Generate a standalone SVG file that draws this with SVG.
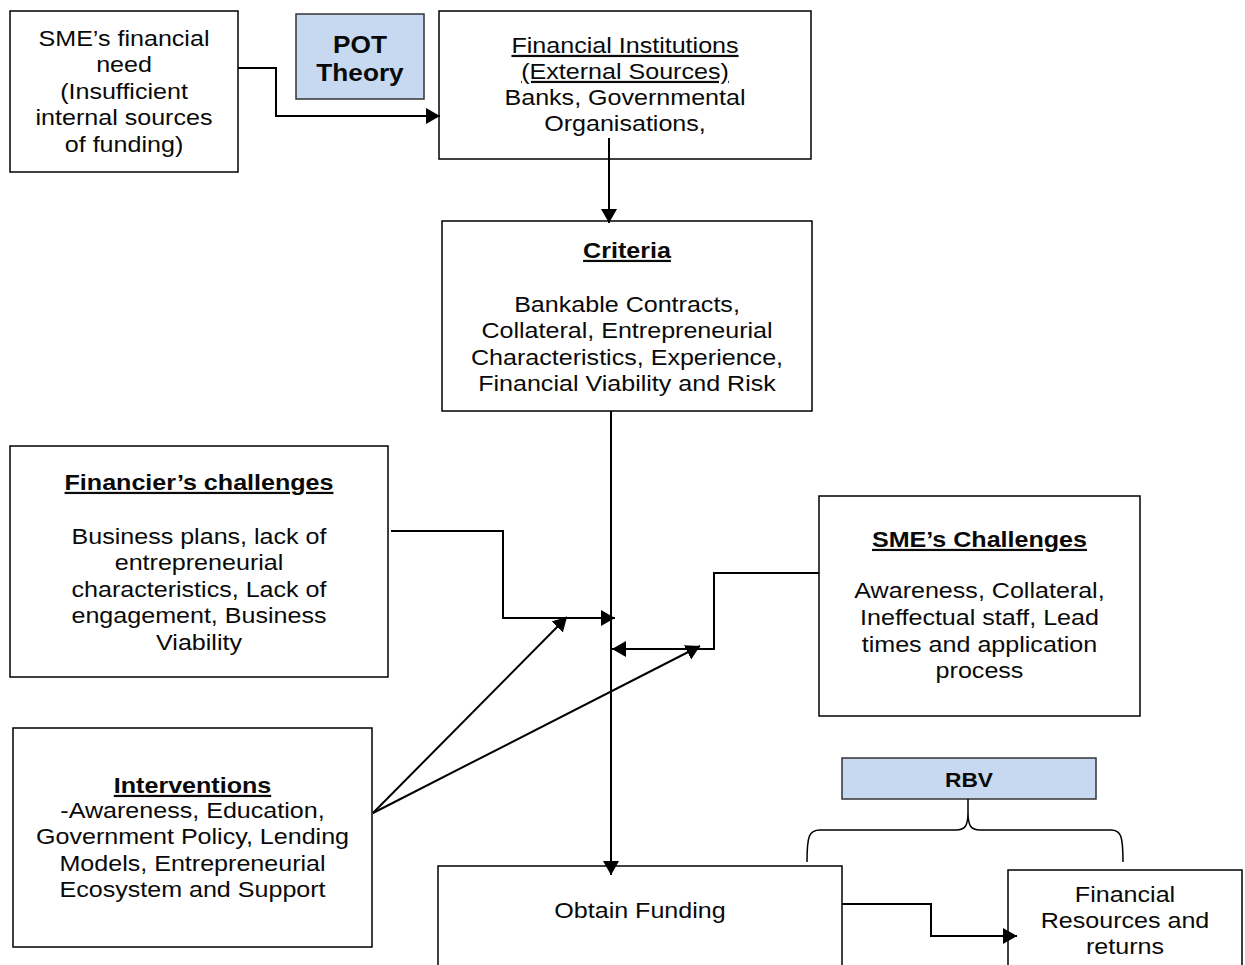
<svg xmlns="http://www.w3.org/2000/svg" width="1245" height="965" viewBox="0 0 1245 965">
  <style>
    .box { fill: #ffffff; stroke: #000000; stroke-width: 1.5; }
    .theory { fill: #c6d9f1; stroke: #333333; stroke-width: 1.5; }
    .t { font-family: "Liberation Sans", Arial, sans-serif; font-size: 22px; fill: #0a0a0a; text-anchor: middle; }
    .b { font-weight: bold; }
    .u { text-decoration: underline; }
    .link { fill: none; stroke: #000000; stroke-width: 2; }
    .brace { fill: none; stroke: #000000; stroke-width: 1.5; }
  </style>
  <defs>
    <marker id="arrow" markerUnits="userSpaceOnUse" markerWidth="15" markerHeight="17" refX="14" refY="8" orient="auto">
      <path d="M0,0 L14,8 L0,16 z" fill="#000000"/>
    </marker>
  </defs>

  <rect width="1245" height="965" fill="#ffffff"/>

  <g id="sme-need">
    <rect class="box" x="10" y="11" width="228" height="161"/>
    <g transform="translate(124,0) scale(1.14,1)">
      <text class="t" x="0" y="46">SME’s financial</text>
      <text class="t" x="0" y="72.5">need</text>
      <text class="t" x="0" y="99">(Insufficient</text>
      <text class="t" x="0" y="125.5">internal sources</text>
      <text class="t" x="0" y="152">of funding)</text>
    </g>
  </g>

  <g id="pot-theory">
    <rect class="theory" x="296" y="14" width="128" height="85"/>
    <g transform="translate(360,0) scale(1.14,1)">
      <text class="t b" x="0" y="53" style="font-size:23px">POT</text>
      <text class="t b" x="0" y="81" style="font-size:23px">Theory</text>
    </g>
  </g>

  <g id="financial-institutions">
    <rect class="box" x="439" y="11" width="372" height="148"/>
    <g transform="translate(625,0) scale(1.14,1)">
      <text class="t u" x="0" y="53">Financial Institutions</text>
      <text class="t u" x="0" y="79">(External Sources)</text>
      <text class="t" x="0" y="105">Banks, Governmental</text>
      <text class="t" x="0" y="131">Organisations,</text>
    </g>
  </g>

  <g id="criteria">
    <rect class="box" x="442" y="221" width="370" height="190"/>
    <g transform="translate(627,0) scale(1.14,1)">
      <text class="t b u" x="0" y="258">Criteria</text>
      <text class="t" x="0" y="312">Bankable Contracts,</text>
      <text class="t" x="0" y="338.5">Collateral, Entrepreneurial</text>
      <text class="t" x="0" y="365">Characteristics, Experience,</text>
      <text class="t" x="0" y="391">Financial Viability and Risk</text>
    </g>
  </g>

  <g id="financiers-challenges">
    <rect class="box" x="10" y="446" width="378" height="231"/>
    <g transform="translate(199,0) scale(1.14,1)">
      <text class="t b u" x="0" y="490">Financier’s challenges</text>
      <text class="t" x="0" y="544">Business plans, lack of</text>
      <text class="t" x="0" y="570.5">entrepreneurial</text>
      <text class="t" x="0" y="597">characteristics, Lack of</text>
      <text class="t" x="0" y="623.5">engagement, Business</text>
      <text class="t" x="0" y="650">Viability</text>
    </g>
  </g>

  <g id="smes-challenges">
    <rect class="box" x="819" y="496" width="321" height="220"/>
    <g transform="translate(979.5,0) scale(1.14,1)">
      <text class="t b u" x="0" y="547">SME’s Challenges</text>
      <text class="t" x="0" y="598">Awareness, Collateral,</text>
      <text class="t" x="0" y="625">Ineffectual staff, Lead</text>
      <text class="t" x="0" y="652">times and application</text>
      <text class="t" x="0" y="678">process</text>
    </g>
  </g>

  <g id="interventions">
    <rect class="box" x="13" y="728" width="359" height="219"/>
    <g transform="translate(192.5,0) scale(1.14,1)">
      <text class="t b u" x="0" y="793">Interventions</text>
      <text class="t" x="0" y="818">-Awareness, Education,</text>
      <text class="t" x="0" y="844.5">Government Policy, Lending</text>
      <text class="t" x="0" y="871">Models, Entrepreneurial</text>
      <text class="t" x="0" y="897.5">Ecosystem and Support</text>
    </g>
  </g>

  <g id="obtain-funding">
    <rect class="box" x="438" y="866" width="404" height="110"/>
    <g transform="translate(640,0) scale(1.14,1)">
      <text class="t" x="0" y="918">Obtain Funding</text>
    </g>
  </g>

  <g id="rbv">
    <rect class="theory" x="842" y="758" width="254" height="41"/>
    <g transform="translate(969,0) scale(1.14,1)">
      <text class="t b" x="0" y="787" style="font-size:20px">RBV</text>
    </g>
  </g>

  <g id="financial-resources">
    <rect class="box" x="1008" y="870" width="234" height="110"/>
    <g transform="translate(1125,0) scale(1.14,1)">
      <text class="t" x="0" y="902">Financial</text>
      <text class="t" x="0" y="928">Resources and</text>
      <text class="t" x="0" y="954">returns</text>
    </g>
  </g>

  <!-- connectors, drawn over the boxes so the arrowheads stay visible -->
  <g id="connectors">
    <polyline class="link" points="238,68 276,68 276,116 440,116" marker-end="url(#arrow)"/>
    <line class="link" x1="609" y1="138" x2="609" y2="223" marker-end="url(#arrow)"/>
    <line class="link" x1="611" y1="411" x2="611" y2="875" marker-end="url(#arrow)"/>
    <polyline class="link" points="391,531 503,531 503,618 615,618" marker-end="url(#arrow)"/>
    <polyline class="link" points="819,573 714,573 714,649 612,649" marker-end="url(#arrow)"/>
    <line class="link" x1="373" y1="813" x2="567" y2="617" marker-end="url(#arrow)"/>
    <line class="link" x1="373" y1="813" x2="700" y2="646" marker-end="url(#arrow)"/>
    <polyline class="link" points="842,904 931,904 931,936 1017,936" marker-end="url(#arrow)"/>
    <path class="brace" d="M807,862 C807,836 809,830 820,830 L956,830 C965,830 968,826 968,812 L968,799 M968,812 C968,826 971,830 980,830 L1111,830 C1121,830 1123,836 1123,862"/>
  </g>
</svg>
